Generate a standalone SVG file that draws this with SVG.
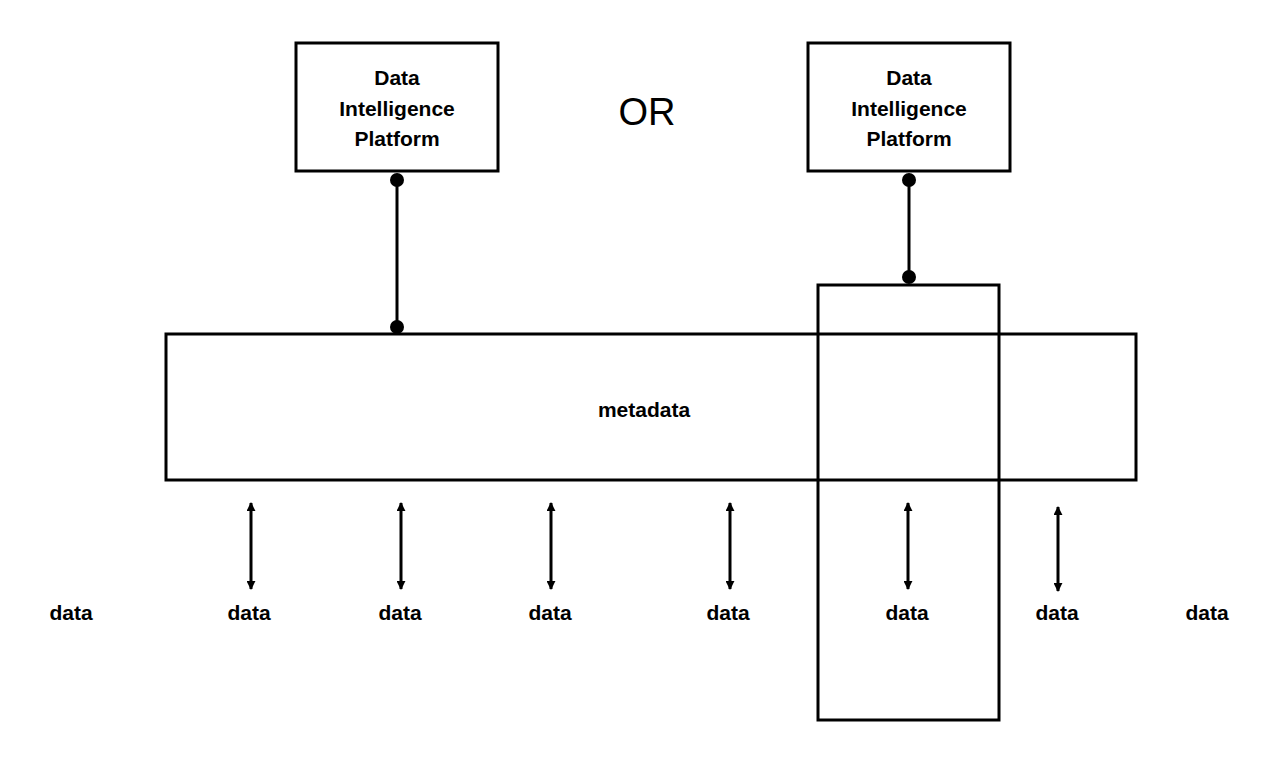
<svg xmlns="http://www.w3.org/2000/svg" width="1282" height="760" viewBox="0 0 1282 760">
<style>
.b{fill:none;stroke:#000;stroke-width:3}
.t{font-family:"Liberation Sans",Arial,sans-serif;font-weight:bold;font-size:21px;text-anchor:middle}
.l{stroke:#000;stroke-width:3}
.a{stroke:#000;stroke-width:3;marker-start:url(#ah);marker-end:url(#ah)}
</style>
<defs><marker id="ah" viewBox="0 0 10 10" refX="9" refY="5" markerWidth="3" markerHeight="3" orient="auto-start-reverse"><path d="M0,0L10,5L0,10z"/></marker></defs>
<rect width="1282" height="760" fill="#fff"/>
<g id="dip1"><rect class="b" x="296" y="43" width="202" height="128"/><text class="t" x="397" y="85">Data</text><text class="t" x="397" y="116">Intelligence</text><text class="t" x="397" y="146">Platform</text></g>
<g id="dip2"><rect class="b" x="808" y="43" width="202" height="128"/><text class="t" x="909" y="85">Data</text><text class="t" x="909" y="116">Intelligence</text><text class="t" x="909" y="146">Platform</text></g>
<text id="or" x="647" y="125" font-family="Liberation Sans,Arial,sans-serif" font-size="38" text-anchor="middle">OR</text>
<g id="metadata"><rect class="b" x="166" y="334" width="970" height="146"/><text class="t" x="644" y="417">metadata</text></g>
<g id="column"><rect class="b" x="818" y="285" width="181" height="435"/></g>
<g id="data">
<text class="t" x="71" y="620">data</text><text class="t" x="249" y="620">data</text><text class="t" x="400" y="620">data</text><text class="t" x="550" y="620">data</text><text class="t" x="728" y="620">data</text><text class="t" x="907" y="620">data</text><text class="t" x="1057" y="620">data</text><text class="t" x="1207" y="620">data</text>
</g>
<g id="connectors">
<line class="l" x1="397" y1="180" x2="397" y2="327"/><circle cx="397" cy="180" r="7"/><circle cx="397" cy="327" r="7"/>
<line class="l" x1="909" y1="180" x2="909" y2="277"/><circle cx="909" cy="180" r="7"/><circle cx="909" cy="277" r="7"/>
<line class="a" x1="251" y1="503" x2="251" y2="589"/>
<line class="a" x1="401" y1="503" x2="401" y2="589"/>
<line class="a" x1="551" y1="503" x2="551" y2="589"/>
<line class="a" x1="730" y1="503" x2="730" y2="589"/>
<line class="a" x1="908" y1="503" x2="908" y2="589"/>
<line class="a" x1="1058" y1="507" x2="1058" y2="591"/>
</g>
</svg>
